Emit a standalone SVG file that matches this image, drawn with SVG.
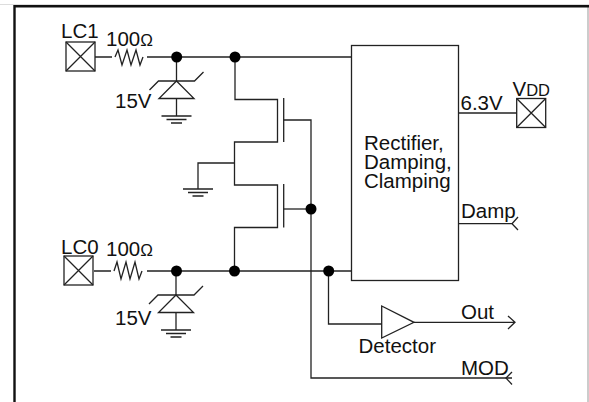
<svg xmlns="http://www.w3.org/2000/svg" width="589" height="402" viewBox="0 0 589 402">
<style>
.w{fill:none;stroke:#222;stroke-width:1.3}
.t{font-family:"Liberation Sans",Arial,sans-serif;font-size:20.5px;fill:#111}
.d{fill:#000;stroke:none}
</style>
<defs>
<g id="pad" class="w"><rect x="0" y="0" width="29" height="29"/><path d="M0 0L29 29M29 0L0 29"/></g>
<g id="gnd" class="w"><path d="M-15 0H15M-10 3.500H10M-5.500 7H5.500"/></g>
<g id="zener" class="w"><path d="M0 0L17.500 17.500H-17.500Z"/><path d="M-27 9L-18 0H18L27 -9"/></g>
</defs>
<rect x="0" y="0" width="589" height="402" fill="#fff"/>
<path d="M0 4.500H589" fill="none" stroke="#ddd" stroke-width="1"/>
<path d="M588 6V402" fill="none" stroke="#aaa" stroke-width="1.200"/>
<path d="M14.500 402V6.200H589" fill="none" stroke="#111" stroke-width="2.400"/>
<g id="connectors" class="w">
<path d="M95 57H112M147 57H351.500"/>
<path d="M94 271H111M147 271H351.500"/>
<path d="M115 57L118 50L122 65L127 50L131 65L136 50L140 65L143 57"/>
<path d="M114 271L117 262L121 279L126 262L130 279L135 262L139 279L142 271"/>
<path d="M176.500 57V81M176.500 98V116"/>
<path d="M176 271V295M176 312.500V330"/>
<path d="M235 57V99.500H277.500V142H234.500V185H277.500V227.500H234.500V271"/>
<path d="M234.500 163H198V189"/>
<path d="M283.700 98V142M283.700 184V227.500"/>
<path d="M283.700 120H311V378H512"/>
<path d="M283.700 209H311"/>
<path d="M328.500 271V324H382"/>
<path d="M414 322.300H515M508 316L515 322.300L508 329"/>
<path d="M458 113H517"/>
<path d="M458 223.700H512M518 217L512 223.700L518 230"/>
<path d="M512 372L506 378L512 384.500"/>
</g>
<g id="rectifier"><rect x="351.500" y="45.500" width="107" height="235" class="w" fill="#fff"/>
<text class="t" x="364" y="150">Rectifier,</text><text class="t" x="364" y="169">Damping,</text><text class="t" x="364" y="188">Clamping</text></g>
<g id="detector"><path class="w" d="M381.700 306L414 322.300L381.700 338Z"/><text class="t" x="358.500" y="352.500">Detector</text></g>
<g id="lc1"><use href="#pad" x="66" y="42"/><text class="t" x="61" y="38">LC1</text></g>
<g id="lc0"><use href="#pad" x="64" y="256"/><text class="t" x="61" y="254">LC0</text></g>
<g id="vdd"><use href="#pad" x="516.700" y="98.500"/><text class="t" x="512.500" y="95.500">V<tspan font-size="16.500px">DD</tspan></text></g>
<g id="r1"><text class="t" x="106" y="46">100<tspan font-size="17px">Ω</tspan></text></g>
<g id="r0"><text class="t" x="106" y="255.700">100<tspan font-size="17px">Ω</tspan></text></g>
<g id="z1"><use href="#zener" x="176.500" y="81"/><use href="#gnd" x="176.500" y="116"/><text class="t" x="115" y="108">15V</text></g>
<g id="z0"><use href="#zener" x="176" y="295"/><use href="#gnd" x="176" y="330"/><text class="t" x="115" y="325">15V</text></g>
<g id="g1"><use href="#gnd" x="198" y="189"/></g>
<g id="dots"><circle class="d" cx="176.700" cy="57" r="5.500"/><circle class="d" cx="235" cy="57" r="5.500"/><circle class="d" cx="176.500" cy="271" r="5.500"/><circle class="d" cx="234.500" cy="271" r="5.500"/><circle class="d" cx="311" cy="209" r="5.500"/><circle class="d" cx="328.700" cy="271" r="5.500"/></g>
<g id="labels"><text class="t" x="460.500" y="110">6.3V</text><text class="t" x="461" y="217.500">Damp</text><text class="t" x="461" y="319">Out</text><text class="t" x="461" y="375">MOD</text></g>
</svg>
